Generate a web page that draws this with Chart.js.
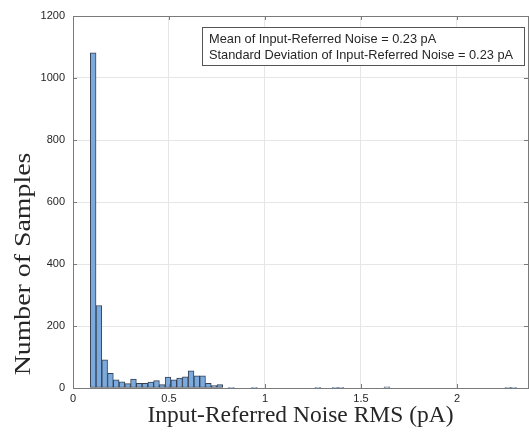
<!DOCTYPE html>
<html>
<head>
<meta charset="utf-8">
<script src="https://cdn.jsdelivr.net/npm/chart.js@4/dist/chart.umd.min.js"></script>
<style>
html,body{margin:0;padding:0;background:#fff;}
#wrap{position:relative;width:529px;height:432px;}
</style>
</head>
<body>
<div id="wrap"><canvas id="c" width="529" height="432"></canvas></div>
<script>
// Histogram bin centres (pA), bin width 0.03
const binCenters = [0.105, 0.135, 0.165, 0.195, 0.225, 0.255, 0.285, 0.315, 0.345, 0.375,
  0.405, 0.435, 0.465, 0.495, 0.525, 0.555, 0.585, 0.615, 0.645, 0.675,
  0.705, 0.735, 0.765, 0.825, 0.945, 1.275, 1.365, 1.395, 1.635, 2.265, 2.295];
const sampleCounts = [1081, 266, 91, 47, 26, 20, 14, 29, 15, 15,
  19, 24, 11, 35, 26, 32, 36, 55, 39, 39,
  15, 8, 11, 2, 2, 2, 2, 2, 4, 2, 2];
const xTicks = [0, 0.5, 1, 1.5, 2];
const yTicks = [0, 200, 400, 600, 800, 1000, 1200];
const xRange = [0, 2.37];
const yRange = [0, 1200];
const statLines = ["Mean of Input-Referred Noise = 0.23 pA",
  "Standard Deviation of Input-Referred Noise = 0.23 pA"];
const xTitle = "Input-Referred Noise RMS (pA)";
const yTitle = "Number of Samples";

const TEXT = '#262626';
const GRID = '#e6e6e6';
const AXIS = '#7a7a7a';

const frame = {
  id: 'frame',
  afterDatasetsDraw(chart) {
    const {ctx, chartArea: a, scales} = chart;
    ctx.save();
    ctx.strokeStyle = AXIS;
    ctx.lineWidth = 1;
    ctx.strokeRect(Math.round(a.left) + 0.5, Math.round(a.top) + 0.5,
      Math.round(a.right - a.left), Math.round(a.bottom - a.top));
    // inward tick marks
    const tl = 4;
    ctx.beginPath();
    xTicks.forEach(v => {
      const x = Math.round(scales.x.getPixelForValue(v)) + 0.5;
      ctx.moveTo(x, a.bottom); ctx.lineTo(x, a.bottom - tl);
      ctx.moveTo(x, a.top); ctx.lineTo(x, a.top + tl);
    });
    yTicks.forEach(v => {
      const y = Math.round(scales.y.getPixelForValue(v)) + 0.5;
      ctx.moveTo(a.left, y); ctx.lineTo(a.left + tl, y);
      ctx.moveTo(a.right, y); ctx.lineTo(a.right - tl, y);
    });
    ctx.stroke();
    // statistics box
    ctx.font = '12.8px "Liberation Sans", Arial, sans-serif';
    const bx = 202.5, by = 27.5, bw = 322, bh = 38;
    ctx.fillStyle = '#fff';
    ctx.fillRect(bx, by, bw, bh);
    ctx.strokeStyle = '#555';
    ctx.strokeRect(bx, by, bw, bh);
    ctx.fillStyle = TEXT;
    ctx.textBaseline = 'alphabetic';
    ctx.textAlign = 'left';
    statLines.forEach((t, i) => ctx.fillText(t, bx + 6.5, by + 15.5 + i * 16));
    // y axis title (vertically stretched in the reference)
    ctx.font = '24px "Liberation Serif", "Times New Roman", serif';
    ctx.translate(24, 264);
    ctx.rotate(-Math.PI / 2);
    ctx.scale(1.16, 1);
    ctx.textAlign = 'center';
    ctx.textBaseline = 'middle';
    ctx.fillText(yTitle, 0, 0);
    ctx.restore();
  }
};

new Chart(document.getElementById('c'), {
  type: 'bar',
  data: {
    datasets: [{
      data: binCenters.map((x, i) => ({x: x, y: sampleCounts[i]})),
      backgroundColor: 'rgb(122,170,222)',
      borderColor: 'rgb(55,65,80)',
      borderWidth: 1,
      borderSkipped: false,
      barPercentage: 1,
      categoryPercentage: 1
    }]
  },
  options: {
    responsive: false,
    animation: false,
    events: [],
    layout: {padding: {top: 16, right: 1, left: 0, bottom: 0}},
    plugins: {legend: {display: false}, tooltip: {enabled: false}},
    scales: {
      x: {
        type: 'linear',
        offset: false,
        min: xRange[0], max: xRange[1],
        afterBuildTicks: s => { s.ticks = xTicks.map(v => ({value: v})); },
        afterFit: s => { s.height = 44; },
        grid: {color: GRID, drawTicks: false, offset: false},
        border: {display: false},
        ticks: {color: TEXT, padding: 4, font: {family: '"Liberation Sans", Arial, sans-serif', size: 11},
          callback: v => String(v)},
        title: {display: true, text: xTitle, color: TEXT, padding: {top: 0, bottom: 2},
          font: {family: '"Liberation Serif", "Times New Roman", serif', size: 23.5}}
      },
      y: {
        min: yRange[0], max: yRange[1],
        afterBuildTicks: s => { s.ticks = yTicks.map(v => ({value: v})); },
        afterFit: s => { s.width = 73; },
        grid: {color: GRID, drawTicks: false},
        border: {display: false},
        ticks: {color: TEXT, padding: 8, font: {family: '"Liberation Sans", Arial, sans-serif', size: 11},
          callback: v => String(v)},
        title: {display: false}
      }
    }
  },
  plugins: [frame]
});
</script>
</body>
</html>
